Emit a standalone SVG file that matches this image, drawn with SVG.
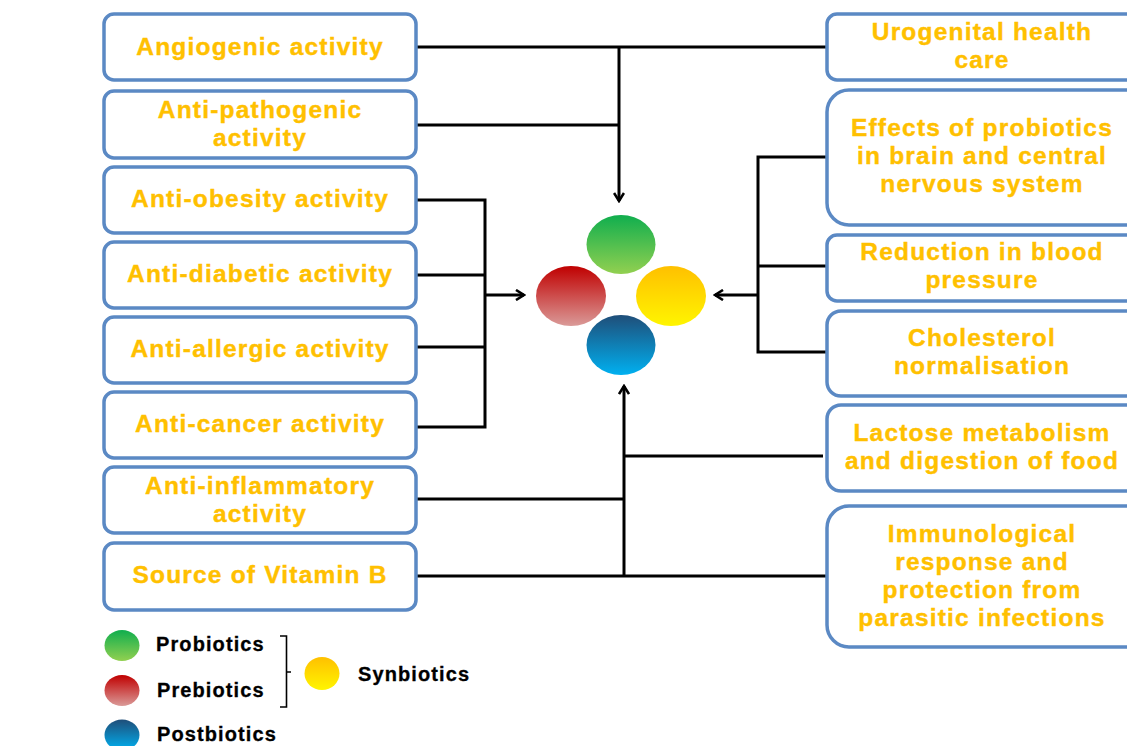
<svg xmlns="http://www.w3.org/2000/svg" width="1127" height="746" viewBox="0 0 1127 746">
  <style>
    .box { fill: #ffffff; stroke: #5B89C4; stroke-width: 3.5; }
    .lbl { font-family: "Liberation Sans", Arial, sans-serif; font-weight: bold; font-size: 24.5px; fill: #FFC000; stroke: #FFC000; stroke-width: 0.4; text-anchor: middle; letter-spacing: 1.2px; }
    .leg { font-family: "Liberation Sans", Arial, sans-serif; font-weight: bold; font-size: 20px; fill: #000000; stroke: #000000; stroke-width: 0.3; letter-spacing: 1.1px; }
    .wire { fill: none; stroke: #000000; stroke-width: 3; }
  </style>
  <defs>
    <marker id="arrow" viewBox="0 0 12 12" refX="10" refY="6" markerWidth="12" markerHeight="12" markerUnits="userSpaceOnUse" orient="auto">
      <path d="M2,1 L10,6 L2,11" fill="none" stroke="#000000" stroke-width="2.6"/>
    </marker>
    <linearGradient id="gGreen" x1="0" y1="0" x2="0" y2="1">
      <stop offset="0" stop-color="#10AE4E"/>
      <stop offset="1" stop-color="#92D050"/>
    </linearGradient>
    <linearGradient id="gRed" x1="0" y1="0" x2="0" y2="1">
      <stop offset="0" stop-color="#C00000"/>
      <stop offset="1" stop-color="#DA9A98"/>
    </linearGradient>
    <linearGradient id="gYellow" x1="0" y1="0" x2="0" y2="1">
      <stop offset="0" stop-color="#FFC000"/>
      <stop offset="1" stop-color="#FFF500"/>
    </linearGradient>
    <linearGradient id="gBlue" x1="0" y1="0" x2="0" y2="1">
      <stop offset="0" stop-color="#1F4E79"/>
      <stop offset="1" stop-color="#00B0F0"/>
    </linearGradient>
  </defs>

  <rect width="1127" height="746" fill="#ffffff"/>

  <!-- connectors -->
  <g id="connectors">
    <!-- top trunk -->
    <path class="wire" d="M416,47 H827"/>
    <path class="wire" d="M416,125 H619"/>
    <path class="wire" d="M619,47 V201" marker-end="url(#arrow)"/>
    <!-- left bracket -->
    <path class="wire" d="M416,200 H485 V427 H416"/>
    <path class="wire" d="M416,275 H485"/>
    <path class="wire" d="M416,347 H485"/>
    <path class="wire" d="M485,295 H524" marker-end="url(#arrow)"/>
    <!-- right bracket -->
    <path class="wire" d="M827,157 H758 V352 H827"/>
    <path class="wire" d="M758,266 H827"/>
    <path class="wire" d="M758,295 H715" marker-end="url(#arrow)"/>
    <!-- bottom trunk -->
    <path class="wire" d="M624,576 V386" marker-end="url(#arrow)"/>
    <path class="wire" d="M624,456 H823"/>
    <path class="wire" d="M416,499 H623"/>
    <path class="wire" d="M413,576 H827"/>
  </g>

  <!-- centre cluster -->
  <g id="cluster">
    <ellipse cx="621" cy="244.5" rx="34.5" ry="29.5" fill="url(#gGreen)"/>
    <ellipse cx="571" cy="296" rx="35" ry="30" fill="url(#gRed)"/>
    <ellipse cx="671" cy="296" rx="35" ry="30" fill="url(#gYellow)"/>
    <ellipse cx="621" cy="345" rx="34.5" ry="30" fill="url(#gBlue)"/>
  </g>

  <!-- left column -->
  <g id="angiogenic">
    <rect class="box" x="104" y="14" width="312" height="66" rx="10"/>
    <text class="lbl" x="260" y="55">Angiogenic activity</text>
  </g>
  <g id="anti-pathogenic">
    <rect class="box" x="104" y="91" width="312" height="67" rx="10"/>
    <text class="lbl" x="260" y="118">Anti-pathogenic</text>
    <text class="lbl" x="260" y="146">activity</text>
  </g>
  <g id="anti-obesity">
    <rect class="box" x="104" y="167" width="312" height="66" rx="10"/>
    <text class="lbl" x="260" y="207">Anti-obesity activity</text>
  </g>
  <g id="anti-diabetic">
    <rect class="box" x="104" y="242" width="312" height="66" rx="10"/>
    <text class="lbl" x="260" y="282">Anti-diabetic activity</text>
  </g>
  <g id="anti-allergic">
    <rect class="box" x="104" y="317" width="312" height="66" rx="10"/>
    <text class="lbl" x="260" y="357">Anti-allergic activity</text>
  </g>
  <g id="anti-cancer">
    <rect class="box" x="104" y="392" width="312" height="66" rx="10"/>
    <text class="lbl" x="260" y="432">Anti-cancer activity</text>
  </g>
  <g id="anti-inflammatory">
    <rect class="box" x="104" y="467" width="312" height="66" rx="10"/>
    <text class="lbl" x="260" y="494">Anti-inflammatory</text>
    <text class="lbl" x="260" y="522">activity</text>
  </g>
  <g id="vitamin-b">
    <rect class="box" x="104" y="543" width="312" height="67" rx="10"/>
    <text class="lbl" x="260" y="583">Source of Vitamin B</text>
  </g>

  <!-- right column -->
  <g id="urogenital">
    <rect class="box" x="827" y="14" width="320" height="66" rx="10"/>
    <text class="lbl" x="982" y="40">Urogenital health</text>
    <text class="lbl" x="982" y="68">care</text>
  </g>
  <g id="brain-cns">
    <rect class="box" x="827" y="90" width="320" height="135" rx="22"/>
    <text class="lbl" x="982" y="136">Effects of probiotics</text>
    <text class="lbl" x="982" y="164">in brain and central</text>
    <text class="lbl" x="982" y="192">nervous system</text>
  </g>
  <g id="blood-pressure">
    <rect class="box" x="827" y="235" width="320" height="66" rx="10"/>
    <text class="lbl" x="982" y="260">Reduction in blood</text>
    <text class="lbl" x="982" y="288">pressure</text>
  </g>
  <g id="cholesterol">
    <rect class="box" x="827" y="311" width="320" height="85" rx="14"/>
    <text class="lbl" x="982" y="346">Cholesterol</text>
    <text class="lbl" x="982" y="374">normalisation</text>
  </g>
  <g id="lactose">
    <rect class="box" x="827" y="405" width="320" height="86" rx="14"/>
    <text class="lbl" x="982" y="441">Lactose metabolism</text>
    <text class="lbl" x="982" y="469">and digestion of food</text>
  </g>
  <g id="immunological">
    <rect class="box" x="827" y="506" width="320" height="141" rx="22"/>
    <text class="lbl" x="982" y="542">Immunological</text>
    <text class="lbl" x="982" y="570">response and</text>
    <text class="lbl" x="982" y="598">protection from</text>
    <text class="lbl" x="982" y="626">parasitic infections</text>
  </g>

  <!-- legend -->
  <g id="legend">
    <ellipse cx="122" cy="645.5" rx="17.5" ry="15.5" fill="url(#gGreen)"/>
    <text class="leg" x="156" y="651">Probiotics</text>
    <ellipse cx="122" cy="690.5" rx="17.5" ry="15.5" fill="url(#gRed)"/>
    <text class="leg" x="157" y="697">Prebiotics</text>
    <ellipse cx="122" cy="735" rx="17.5" ry="15.5" fill="url(#gBlue)"/>
    <text class="leg" x="157" y="741">Postbiotics</text>
    <path d="M280,636 H286.5 V707 H280 M286.5,672 H291" fill="none" stroke="#000000" stroke-width="1.6"/>
    <ellipse cx="322" cy="673.5" rx="17.5" ry="16.5" fill="url(#gYellow)"/>
    <text class="leg" x="358" y="681">Synbiotics</text>
  </g>
</svg>
